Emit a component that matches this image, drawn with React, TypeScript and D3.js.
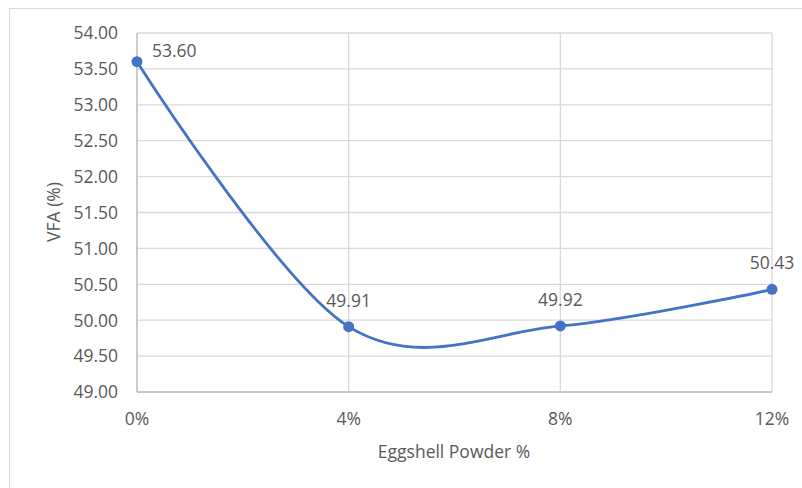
import React from "react";
import * as d3 from "d3";

const xValues = [0, 4, 8, 12];
const xTickLabels = ["0%", "4%", "8%", "12%"];
const vfaValues = [53.6, 49.91, 49.92, 50.43];
const yTicks = [49, 49.5, 50, 50.5, 51, 51.5, 52, 52.5, 53, 53.5, 54];

const W = 802;
const H = 488;
const M = { left: 137, right: 772, top: 33, bottom: 392 };
const FONT = "'Open Sans', sans-serif";
const FS = 17.5;
const TEXT = "#595959";
const BLUE = "#4472C4";

export default function App() {
  const x = d3.scaleLinear().domain([0, 12]).range([M.left, M.right]);
  const y = d3.scaleLinear().domain([49, 54]).range([M.bottom, M.top]);
  const pts: [number, number][] = xValues.map((v, i) => [x(v), y(vfaValues[i])]);
  const line = d3.line().curve(d3.curveCardinal.tension(0))(pts) || "";

  return (
    <svg width={W} height={H} style={{ position: "absolute", left: 0, top: 0, background: "#fff" }}>
      <rect x={9.5} y={8.5} width={W} height={H} fill="#fff" stroke="#d9d9d9" />
      {yTicks.map((t) => (
        <g key={t}>
          <line x1={M.left} x2={M.right} y1={y(t)} y2={y(t)} stroke="#d9d9d9" strokeWidth={1.3} />
          <text x={M.left - 19} y={y(t)} dy="0.36em" textAnchor="end" fontFamily={FONT} fontSize={FS} fill={TEXT}>
            {t.toFixed(2)}
          </text>
        </g>
      ))}
      {xValues.map((v, i) => (
        <g key={v}>
          <line x1={x(v)} x2={x(v)} y1={M.top} y2={M.bottom} stroke="#d9d9d9" strokeWidth={1.3} />
          <text x={x(v)} y={M.bottom + 33} textAnchor="middle" fontFamily={FONT} fontSize={FS} fill={TEXT}>
            {xTickLabels[i]}
          </text>
        </g>
      ))}
      <line x1={M.left} x2={M.left} y1={M.top} y2={M.bottom} stroke="#bfbfbf" strokeWidth={1.3} />
      <line x1={M.left} x2={M.right} y1={M.bottom} y2={M.bottom} stroke="#bfbfbf" strokeWidth={1.5} />
      <path d={line} fill="none" stroke={BLUE} strokeWidth={2.8} />
      {pts.map((p, i) => (
        <circle key={i} cx={p[0]} cy={p[1]} r={5.5} fill={BLUE} />
      ))}
      {pts.map((p, i) => (
        <text
          key={"l" + i}
          x={i === 0 ? p[0] + 15 : p[0]}
          y={i === 0 ? p[1] - 5 : p[1] - 20}
          textAnchor={i === 0 ? "start" : "middle"}
          fontFamily={FONT}
          fontSize={FS}
          fill={TEXT}
        >
          {vfaValues[i].toFixed(2)}
        </text>
      ))}
      <text x={454} y={458} textAnchor="middle" fontFamily={FONT} fontSize={FS} fill={TEXT}>
        Eggshell Powder %
      </text>
      <text
        transform={`translate(60, 212) rotate(-90)`}
        textAnchor="middle"
        fontFamily={FONT}
        fontSize={FS}
        fill={TEXT}
      >
        VFA (%)
      </text>
    </svg>
  );
}
